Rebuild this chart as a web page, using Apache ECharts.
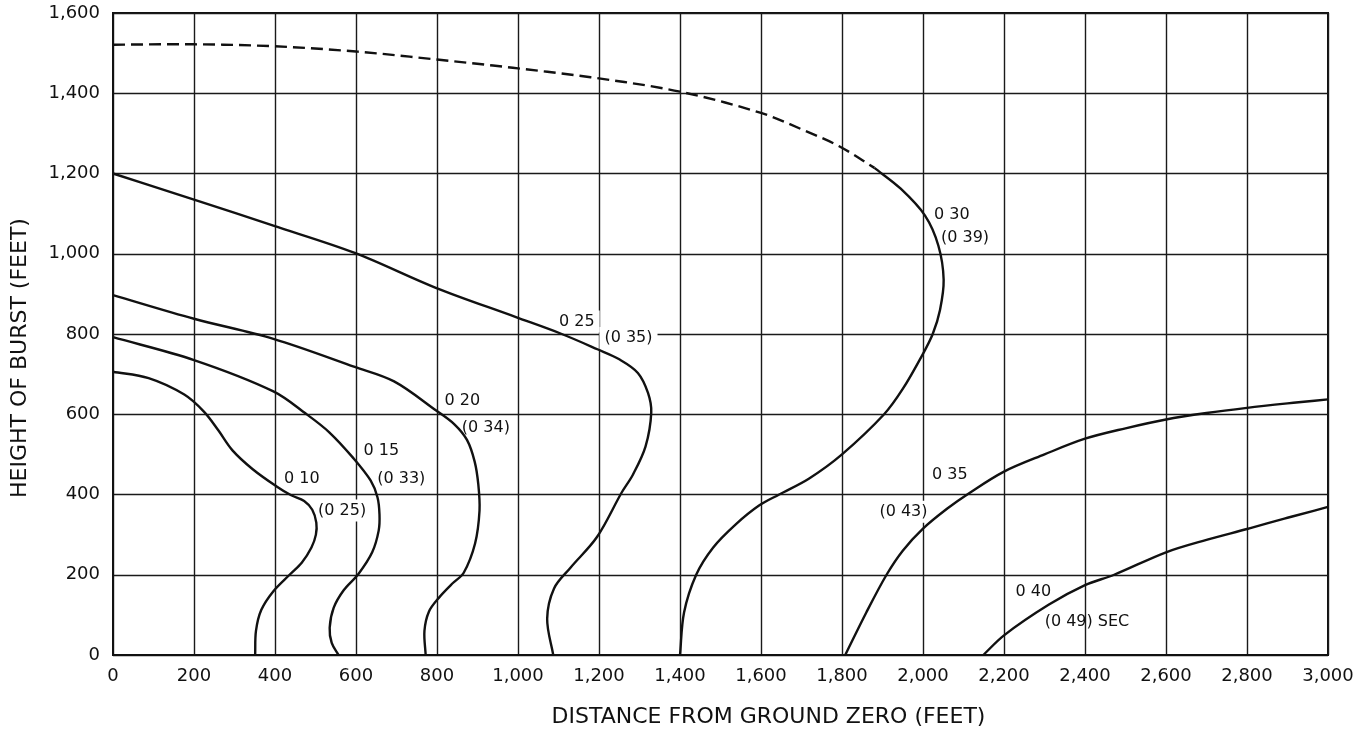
<!DOCTYPE html>
<html>
<head>
<meta charset="utf-8">
<script src="https://cdn.jsdelivr.net/npm/echarts@6/dist/echarts.min.js"></script>
<style>
  html, body { margin: 0; padding: 0; background: #fff; }
  #chart { width: 1371px; height: 733px; }
</style>
</head>
<body>
<div id="chart"></div>
<script>
// Tick values and their printed labels
const xTicks = [0, 200, 400, 600, 800, 1000, 1200, 1400, 1600, 1800, 2000, 2200, 2400, 2600, 2800, 3000];
const xTickLabels = ['0', '200', '400', '600', '800', '1,000', '1,200', '1,400', '1,600', '1,800', '2,000', '2,200', '2,400', '2,600', '2,800', '3,000'];
const yTicks = [0, 200, 400, 600, 800, 1000, 1200, 1400, 1600];
const yTickLabels = ['0', '200', '400', '600', '800', '1,000', '1,200', '1,400', '1,600'];

// Contours: [distance (ft), height of burst (ft)]
const c010 = [[0,706],[88,690],[176,649],[225,606],[260,560],[295,510],[345,463],[404,420],[440,398],[472,384],[492,362],[502,330],[501,300],[490,268],[466,230],[436,200],[396,159],[366,112],[353,60],[351,0]];
const c015 = [[0,792],[200,735],[396,657],[478,600],[534,555],[594,490],[636,435],[653,393],[658,350],[656,310],[640,256],[606,202],[570,162],[545,118],[535,68],[540,30],[557,0]];
const c020 = [[0,897],[200,838],[396,788],[597,718],[694,682],[797,610],[843,575],[874,536],[893,482],[902,425],[905,360],[894,278],[866,205],[840,180],[805,143],[780,108],[769,60],[772,0]];
const c025 = [[0,1200],[200,1135],[396,1070],[597,1002],[797,915],[995,842],[1108,800],[1196,762],[1250,737],[1296,703],[1321,653],[1329,604],[1315,520],[1284,450],[1256,405],[1195,294],[1129,217],[1089,166],[1072,90],[1087,0]];
const c030Upper = [[0,1521],[200,1522],[400,1517],[600,1504],[800,1484],[1000,1462],[1200,1437],[1400,1404],[1600,1351],[1703,1309],[1793,1268],[1880,1214]];
const c030 = [[1880,1214],[1945,1162],[2005,1095],[2038,1020],[2051,935],[2042,860],[2024,800],[1998,747],[1950,663],[1904,600],[1800,500],[1719,440],[1645,400],[1596,373],[1537,325],[1482,268],[1440,200],[1410,106],[1400,0]];
const c035 = [[1808,0],[1860,106],[1910,200],[1950,260],[2000,315],[2060,365],[2112,402],[2200,457],[2300,500],[2400,539],[2500,565],[2600,587],[2700,603],[2800,616],[2900,627],[3000,637]];
const c040 = [[2149,0],[2200,49],[2310,125],[2400,174],[2472,200],[2600,256],[2700,287],[2800,314],[2900,342],[3000,369]];

// Contour captions: [distance, height, text, masks grid behind it]
const curveLabels = [
  [410, 439, '0 10', true], [494, 360, '(0 25)', true],
  [606, 508, '0 15', true], [640, 439, '(0 33)', true],
  [806, 633, '0 20', true], [849, 566, '(0 34)', true],
  [1089, 831, '0 25', true], [1201, 790, '(0 35)', true],
  [2015, 1096, '0 30', true], [2032, 1039, '(0 39)', true],
  [2010, 448, '0 35', true], [1880, 357, '(0 43)', true],
  [2216, 158, '0 40', true], [2288, 83, '(0 49) SEC', false]
];

const font = 'DejaVu Sans';
const ink = '#111111';

function labelFor(ticks, labels) {
  return v => { const i = ticks.indexOf(v); return i >= 0 ? labels[i] : ''; };
}

// Smooth path through pixel points: tangent at each point follows its neighbours,
// control arms are a third of the adjacent segment length.
function smoothPath(pts) {
  const n = pts.length;
  const tan = pts.map((p, i) => {
    const a = pts[Math.max(i - 1, 0)], b = pts[Math.min(i + 1, n - 1)];
    const dx = b[0] - a[0], dy = b[1] - a[1];
    const l = Math.hypot(dx, dy) || 1;
    return [dx / l, dy / l];
  });
  let d = 'M' + pts[0][0] + ',' + pts[0][1];
  for (let i = 0; i < n - 1; i++) {
    const p = pts[i], q = pts[i + 1];
    const len = Math.hypot(q[0] - p[0], q[1] - p[1]) / 3;
    const c1 = [p[0] + tan[i][0] * len, p[1] + tan[i][1] * len];
    const c2 = [q[0] - tan[i + 1][0] * len, q[1] - tan[i + 1][1] * len];
    d += 'C' + c1[0] + ',' + c1[1] + ',' + c2[0] + ',' + c2[1] + ',' + q[0] + ',' + q[1];
  }
  return d;
}

function contour(data, dashed) {
  return {
    type: 'custom', coordinateSystem: 'cartesian2d', data: data, z: 4, silent: true,
    encode: { x: 0, y: 1 },
    renderItem: function (params, api) {
      if (params.dataIndex !== 0) return null;
      const pts = data.map(p => api.coord(p));
      return {
        type: 'path',
        shape: { pathData: smoothPath(pts) },
        style: { fill: null, stroke: ink, lineWidth: 2.4, lineDash: dashed ? [12, 6] : null, lineCap: 'butt' }
      };
    }
  };
}

const chart = echarts.init(document.getElementById('chart'), null, { renderer: 'canvas' });
chart.setOption({
  backgroundColor: '#fff',
  animation: false,
  grid: { left: 113, top: 13, right: 43, bottom: 78, show: true, borderColor: ink, borderWidth: 2, backgroundColor: 'transparent' },
  xAxis: {
    type: 'value', min: 0, max: 3000, interval: 200,
    name: 'DISTANCE FROM GROUND ZERO (FEET)',
    nameLocation: 'middle', nameGap: 51,
    nameTextStyle: { fontFamily: font, fontSize: 22, color: ink, padding: [0, 0, 0, 96] },
    axisLine: { show: true, lineStyle: { color: ink, width: 2 } },
    axisTick: { show: false },
    axisLabel: { fontFamily: font, fontSize: 18, color: ink, margin: 12, formatter: labelFor(xTicks, xTickLabels) },
    splitLine: { show: true, lineStyle: { color: '#1a1a1a', width: 1.4 } }
  },
  yAxis: {
    type: 'value', min: 0, max: 1600, interval: 200,
    name: 'HEIGHT OF BURST (FEET)',
    nameLocation: 'middle', nameGap: 82, nameRotate: 90,
    nameTextStyle: { fontFamily: font, fontSize: 22, color: ink, padding: [0, 48, 0, 0] },
    axisLine: { show: true, lineStyle: { color: ink, width: 2 } },
    axisTick: { show: false },
    axisLabel: { fontFamily: font, fontSize: 18, color: ink, margin: 13, formatter: labelFor(yTicks, yTickLabels) },
    splitLine: { show: true, lineStyle: { color: '#1a1a1a', width: 1.4 } }
  },
  series: [
    {
      type: 'scatter', z: 3, silent: true, symbolSize: 0,
      itemStyle: { color: 'transparent', opacity: 1 },
      data: curveLabels.map(d => ({
        value: [d[0], d[1]], name: d[2],
        label: { backgroundColor: d[3] ? '#fff' : 'transparent' }
      })),
      label: {
        show: true, position: 'right', distance: 0, opacity: 1,
        formatter: p => p.name,
        fontFamily: font, fontSize: 16, color: ink,
        backgroundColor: '#fff', padding: [3, 5]
      }
    },
    contour(c010), contour(c015), contour(c020), contour(c025),
    contour(c030Upper, true), contour(c030), contour(c035), contour(c040)
  ]
});
</script>
</body>
</html>
